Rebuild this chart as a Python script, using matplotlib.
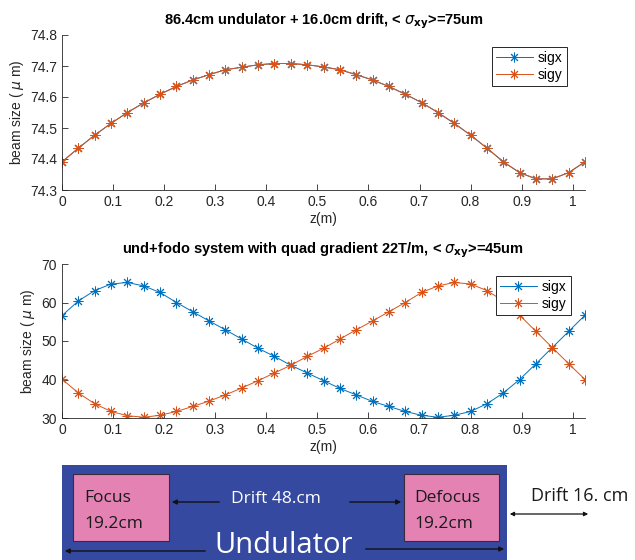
import numpy as np
import matplotlib
matplotlib.use("Agg")
import matplotlib.pyplot as plt
from matplotlib.patches import Rectangle

# z positions (m), 33 samples
z = [0.000, 0.032, 0.064, 0.096, 0.128, 0.160, 0.192, 0.224, 0.256, 0.288, 0.320,
     0.352, 0.384, 0.416, 0.448, 0.480, 0.512, 0.544, 0.576, 0.608, 0.640, 0.672,
     0.704, 0.736, 0.768, 0.800, 0.832, 0.864, 0.896, 0.928, 0.960, 0.992, 1.024]

# top panel: undulator + drift, sigx and sigy identical
top_sig = [74.391, 74.435, 74.477, 74.515, 74.550, 74.581, 74.609, 74.634, 74.655,
           74.672, 74.688, 74.696, 74.704, 74.708, 74.708, 74.704, 74.697, 74.688,
           74.672, 74.655, 74.634, 74.609, 74.582, 74.550, 74.515, 74.477, 74.435,
           74.391, 74.356, 74.336, 74.336, 74.356, 74.391]

# bottom panel: und + fodo
bot_sigx = [56.6, 60.4, 63.1, 64.8, 65.2, 64.3, 62.6, 60.0, 57.6, 55.2, 52.9,
            50.5, 48.1, 46.0, 43.7, 41.7, 39.7, 37.7, 36.0, 34.3, 33.0, 31.7,
            30.7, 30.2, 30.7, 31.7, 33.7, 36.5, 40.0, 44.1, 48.3, 52.5, 56.7]
bot_sigy = [40.1, 36.5, 33.7, 31.7, 30.6, 30.2, 30.7, 31.7, 33.0, 34.4, 36.0,
            37.8, 39.7, 41.7, 43.7, 46.0, 48.1, 50.5, 52.9, 55.2, 57.6, 60.0,
            62.6, 64.3, 65.2, 64.8, 63.1, 60.4, 56.7, 52.5, 48.3, 44.1, 40.0]

xticks = [0, 0.1, 0.2, 0.3, 0.4, 0.5, 0.6, 0.7, 0.8, 0.9, 1.0]
xticklabels = ["0", "0.1", "0.2", "0.3", "0.4", "0.5", "0.6", "0.7", "0.8", "0.9", "1"]
top_yticks = [74.3, 74.4, 74.5, 74.6, 74.7, 74.8]
bot_yticks = [30, 40, 50, 60, 70]

C_X = "#0072BD"
C_Y = "#D95319"
AX_C = "#262626"

plt.rcParams['font.family'] = ['Liberation Sans', 'DejaVu Sans']
plt.rcParams['mathtext.fontset'] = 'dejavusans'

W, H = 635, 560
fig = plt.figure(figsize=(W / 100, H / 100), dpi=100)


def px_axes(left, top, right, bottom):
    return fig.add_axes([left / W, 1 - bottom / H, (right - left) / W, (bottom - top) / H])


def style(ax, yticks, ylim):
    ax.set_xlim(0, 1.024)
    ax.set_ylim(*ylim)
    ax.set_xticks(xticks)
    ax.set_xticklabels(xticklabels)
    ax.set_yticks(yticks)
    for s in ["top", "right"]:
        ax.spines[s].set_visible(False)
    for s in ["left", "bottom"]:
        ax.spines[s].set_color(AX_C)
        ax.spines[s].set_linewidth(0.6)
    ax.tick_params(direction="in", length=4, width=0.6, colors=AX_C, labelsize=10)
    ax.set_xlabel("z(m)", fontsize=10, color=AX_C, labelpad=2)
    ax.set_ylabel(r"beam size ( $\mu$ m)", fontsize=10, color=AX_C, labelpad=3)


mk = dict(marker=(8, 2, 0), markersize=7, linewidth=0.7, markeredgewidth=0.7)
legkw = dict(loc="upper right", borderaxespad=0, fancybox=False, framealpha=1,
             edgecolor=AX_C, fontsize=10, handlelength=2.6, labelspacing=0.2,
             borderpad=0.3, handletextpad=0.4)

# top panel
ax1 = px_axes(62, 35, 585, 190)
ax1.plot(z, top_sig, color=C_X, label="sigx", **mk)
ax1.plot(z, top_sig, color=C_Y, label="sigy", **mk)
style(ax1, top_yticks, (74.3, 74.8))
ax1.set_yticklabels(["74.3", "74.4", "74.5", "74.6", "74.7", "74.8"])
ax1.set_title(r"86.4cm undulator + 16.0cm drift, < $\sigma_{\mathbf{xy}}$>=75um",
              fontsize=10.5, fontweight="bold", pad=8)
leg1 = ax1.legend(bbox_to_anchor=(0.9656, 0.9226), **legkw)
leg1.get_frame().set_linewidth(0.7)

# bottom panel
ax2 = px_axes(62, 264, 585, 418)
ax2.plot(z, bot_sigx, color=C_X, label="sigx", **mk)
ax2.plot(z, bot_sigy, color=C_Y, label="sigy", **mk)
style(ax2, bot_yticks, (30, 70))
ax2.set_title(r"und+fodo system with quad gradient 22T/m, < $\sigma_{\mathbf{xy}}$>=45um",
              fontsize=10.5, fontweight="bold", pad=8)
leg2 = ax2.legend(bbox_to_anchor=(0.9732, 0.922), **legkw)
leg2.get_frame().set_linewidth(0.7)

# lattice sketch
ax3 = fig.add_axes([0, 0, 1, 105 / H])
ax3.set_xlim(0, W)
ax3.set_ylim(H, 455)
ax3.axis("off")
ax3.patch.set_alpha(0)

BLUE = "#3649A0"
PINK = "#E482B4"
dfont = ['Open Sans', 'DejaVu Sans']

ax3.add_patch(Rectangle((62, 465), 445, 100, facecolor=BLUE, edgecolor="none"))
ax3.add_patch(Rectangle((73, 474), 96, 67, facecolor=PINK, edgecolor="#3a2a3a", linewidth=0.8))
ax3.add_patch(Rectangle((404, 474), 95, 67, facecolor=PINK, edgecolor="#3a2a3a", linewidth=0.8))

ax3.text(84, 502, "Focus", fontsize=12.5, family=dfont, color="#1a1a1a", va="baseline")
ax3.text(84, 528, "19.2cm", fontsize=12.5, family=dfont, color="#1a1a1a", va="baseline")
ax3.text(414, 502, "Defocus", fontsize=12.5, family=dfont, color="#1a1a1a", va="baseline")
ax3.text(414, 528, "19.2cm", fontsize=12.5, family=dfont, color="#1a1a1a", va="baseline")
ax3.text(276, 499, "Drift 48.cm", fontsize=12.5, family=dfont, color="white", ha="center", va="center")
ax3.text(284, 553, "Undulator", fontsize=21, family=dfont, color="white", ha="center", va="baseline")
ax3.text(580, 496, "Drift 16. cm", fontsize=13, family=dfont, color="#1a1a1a", ha="center", va="center")

arr = dict(arrowstyle="-|>", color="#111111", lw=1.0, mutation_scale=7)
ax3.annotate("", xy=(169, 502), xytext=(222, 502), arrowprops=arr)
ax3.annotate("", xy=(404, 502), xytext=(347, 502), arrowprops=arr)
ax3.annotate("", xy=(62, 551), xytext=(208, 551), arrowprops=arr)
ax3.annotate("", xy=(507, 549), xytext=(363, 549), arrowprops=arr)
ax3.annotate("", xy=(591, 514), xytext=(507, 514),
             arrowprops=dict(arrowstyle="<|-|>", color="#111111", lw=0.9, mutation_scale=6))

fig.savefig("out.png", dpi=100)
